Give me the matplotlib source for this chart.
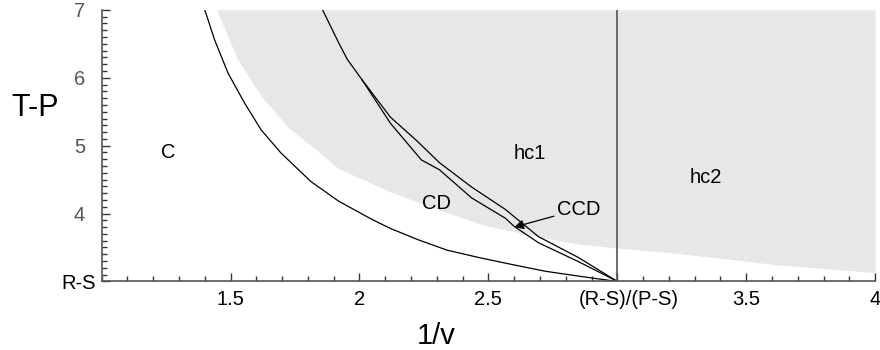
import numpy as np
import matplotlib.pyplot as plt
import matplotlib.transforms as mtransforms
from matplotlib.ticker import MultipleLocator, FixedLocator

plt.rcParams['font.family'] = ['Liberation Sans', 'DejaVu Sans']

# outer boundary of region C
outer_x = [1.400, 1.438, 1.490, 1.554, 1.619, 1.696, 1.812, 1.92, 2.05, 2.12, 2.23, 2.34, 2.465, 2.59, 2.72, 2.81, 2.92, 3.0]
outer_y = [7.0, 6.56, 6.07, 5.63, 5.23, 4.89, 4.47, 4.18, 3.91, 3.78, 3.61, 3.46, 3.35, 3.25, 3.15, 3.10, 3.04, 3.0]

# lower edge of the shaded region
shade_x = [1.445, 1.528, 1.619, 1.721, 1.825, 1.92, 2.12, 2.31, 2.49, 2.72, 2.85, 3.0, 3.24, 3.63, 4.0]
shade_y = [7.0, 6.27, 5.73, 5.28, 4.96, 4.66, 4.32, 4.05, 3.82, 3.64, 3.55, 3.49, 3.41, 3.24, 3.13]

# common trunk of CD / CCD above the split
trunk_x = [1.857, 1.92, 1.953, 2.01]
trunk_y = [7.0, 6.51, 6.27, 5.97]

# CD (lower branch) and CCD (upper branch)
cd_x = [2.01, 2.12, 2.24, 2.31, 2.435, 2.566, 2.60, 2.694, 2.85, 3.0]
cd_y = [5.97, 5.33, 4.79, 4.645, 4.23, 3.93, 3.81, 3.57, 3.29, 3.0]
ccd_x = [2.01, 2.12, 2.22, 2.31, 2.435, 2.566, 2.694, 2.85, 3.0]
ccd_y = [5.97, 5.42, 5.08, 4.75, 4.39, 4.06, 3.66, 3.35, 3.0]

x_ticks = [1.5, 2, 2.5, 3, 3.5, 4]
x_labels = ['1.5', '2', '2.5', '(R-S)/(P-S)', '3.5', '4']
y_ticks = [3, 4, 5, 6, 7]
y_labels = ['R-S', '4', '5', '6', '7']

regions = [('C', 1.26, 4.90), ('hc1', 2.66, 4.89), ('hc2', 3.345, 4.53), ('CD', 2.30, 4.15)]


def main():
    fig = plt.figure(figsize=(8.8, 3.5), dpi=100)
    ax = fig.add_axes([0.1155, 0.196, 0.879, 0.7757])

    ax.fill_between(shade_x, shade_y, 7, color='#e6e7e7', lw=0, zorder=0)
    ax.plot(outer_x, outer_y, color='black', lw=0.9)
    ax.plot(trunk_x, trunk_y, color='black', lw=0.9)
    ax.plot(cd_x, cd_y, color='black', lw=0.9)
    ax.plot(ccd_x, ccd_y, color='black', lw=0.9)
    ax.plot([3, 3], [3, 7], color='#555555', lw=1.2)

    for txt, tx, ty in regions:
        ax.text(tx, ty, txt, fontsize=14.5, ha='center', va='center')
    ax.annotate('CCD', xy=(2.60, 3.80), xytext=(2.765, 4.06), fontsize=14.5,
                ha='left', va='center',
                arrowprops=dict(arrowstyle='-|>', color='black', lw=0.9,
                                mutation_scale=14, shrinkA=0, shrinkB=0))

    ax.set_xlim(1, 4)
    ax.set_ylim(3, 7)
    for s in ['top', 'right']:
        ax.spines[s].set_visible(False)
    for s in ['left', 'bottom']:
        ax.spines[s].set_color('#555555')
        ax.spines[s].set_linewidth(1.2)

    ax.xaxis.set_major_locator(FixedLocator(x_ticks))
    ax.set_xticklabels(x_labels)
    ax.xaxis.set_minor_locator(MultipleLocator(0.1))
    ax.yaxis.set_major_locator(FixedLocator(y_ticks))
    ax.set_yticklabels(y_labels)
    ax.yaxis.set_minor_locator(MultipleLocator(0.1))
    ax.tick_params(which='both', direction='in', color='#333333', width=1)
    ax.tick_params(which='major', length=6, labelsize=14.5)
    ax.tick_params(axis='x', which='major', pad=6)
    ax.tick_params(axis='y', which='major', pad=4)
    ax.tick_params(which='minor', length=3.5)
    shift = mtransforms.ScaledTranslation(-8 / 72, 0, fig.dpi_scale_trans)
    for lab in ax.get_yticklabels()[1:]:
        lab.set_color('#555555')
        lab.set_transform(lab.get_transform() + shift)
    # the (R-S)/(P-S) label sits a little right of its tick in the original
    xshift = mtransforms.ScaledTranslation(8 / 72, 0, fig.dpi_scale_trans)
    rs_lab = ax.get_xticklabels()[3]
    rs_lab.set_transform(rs_lab.get_transform() + xshift)

    ax.set_xlabel('1/v', fontsize=21)
    ax.xaxis.set_label_coords(0.432, -0.149)
    ax.set_ylabel('T-P', fontsize=22, rotation=0)
    ax.yaxis.set_label_coords(-0.0858, 0.582)

    fig.savefig('out.png', dpi=100)


if __name__ == "__main__":
    main()
